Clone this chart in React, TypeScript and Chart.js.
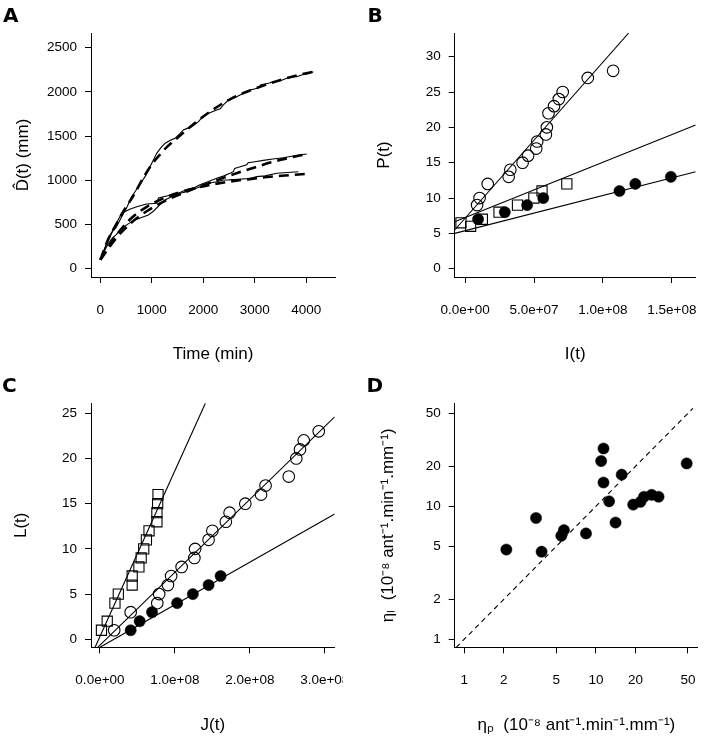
import React, { useEffect, useRef } from "react";
import { Chart, registerables } from "chart.js";
Chart.register(...registerables);

// ---------------- Panel A : D^(t) vs time ----------------
const aTimeObs1 = [0, 60, 130, 188, 250, 300, 415, 520, 610, 740, 868, 980, 1095, 1192, 1260, 1350, 1450, 1550, 1612, 1700, 1775, 1900, 1960, 2033, 2150, 2260, 2330, 2400, 2485, 2600, 2713, 2800, 2907, 3050, 3120, 3262, 3400, 3500, 3619, 3700, 3814, 3950, 4040, 4136];
const aDistObs1 = [100, 190, 300, 381, 440, 460, 588, 700, 814, 930, 1041, 1170, 1305, 1380, 1420, 1450, 1475, 1530, 1569, 1590, 1606, 1660, 1700, 1739, 1770, 1795, 1810, 1860, 1908, 1930, 1965, 1990, 2022, 2040, 2080, 2097, 2120, 2125, 2154, 2172, 2172, 2200, 2205, 2229];
const aTimeFit1 = [0, 150, 285, 450, 629, 868, 1000, 1159, 1300, 1450, 1806, 2130, 2551, 2971, 3392, 3878, 4136];
const aDistFit1 = [100, 330, 475, 650, 814, 1060, 1180, 1290, 1380, 1456, 1633, 1776, 1927, 2030, 2115, 2195, 2228];

const aTimeObs2 = [0, 80, 160, 240, 300, 415, 550, 674, 800, 932, 1030, 1150, 1256, 1400, 1515, 1677, 1839, 1936, 2100, 2260, 2400, 2518, 2583, 2610, 2700, 2843, 2870, 3000, 3165, 3350, 3553, 3800, 4008];
const aDistObs2 = [100, 200, 290, 350, 380, 457, 510, 551, 580, 607, 650, 720, 777, 820, 853, 895, 920, 950, 985, 1022, 1050, 1079, 1097, 1135, 1150, 1175, 1198, 1210, 1225, 1240, 1255, 1280, 1297];
const aTimeFit2 = [0, 300, 600, 900, 1200, 1500, 1800, 2100, 2400, 2700, 3000, 3300, 3600, 4008];
const aDistFit2 = [100, 340, 520, 650, 750, 830, 900, 965, 1030, 1090, 1145, 1200, 1245, 1297];

const aTimeObs3 = [0, 100, 221, 300, 415, 560, 706, 900, 1095, 1130, 1223, 1417, 1547, 1676, 1936, 2097, 2260, 2390, 2500, 2907, 3037, 3200, 3425, 3845];
const aDistObs3 = [100, 250, 400, 500, 627, 670, 701, 732, 740, 800, 814, 840, 853, 871, 928, 966, 984, 1003, 1005, 1020, 1041, 1050, 1079, 1097];
const aTimeFit3 = [0, 300, 600, 900, 1200, 1500, 1800, 2100, 2400, 2700, 3000, 3300, 3600, 3975];
const aDistFit3 = [100, 370, 570, 700, 790, 855, 905, 945, 975, 1000, 1020, 1040, 1055, 1071];

const aXTicks = [0, 1000, 2000, 3000, 4000];
const aXLabels = ["0", "1000", "2000", "3000", "4000"];
const aYTicks = [0, 500, 1000, 1500, 2000, 2500];
const aYLabels = ["0", "500", "1000", "1500", "2000", "2500"];

// ---------------- Panel B : P(t) vs I(t) ----------------
const bOpenX = [0.87e7, 1.05e7, 1.64e7, 3.16e7, 3.28e7, 4.17e7, 4.57e7, 5.16e7, 5.23e7, 5.86e7, 5.93e7, 6.05e7, 6.45e7, 6.8e7, 7.08e7, 8.9e7, 1.074e8];
const bOpenY = [9, 10, 12, 13, 14, 15, 16, 17, 18, 19, 20, 22, 23, 24, 25, 27, 28];
const bSquareX = [-0.3e7, 0.4e7, 1.25e7, 2.46e7, 3.8e7, 4.99e7, 5.58e7, 7.38e7];
const bSquareY = [6.5, 6, 7, 8, 9, 10, 11, 12];
const bFilledX = [0.94e7, 2.88e7, 4.5e7, 5.67e7, 1.12e8, 1.235e8, 1.493e8];
const bFilledY = [7, 8, 9, 10, 11, 12, 13];
const bFitOpenX = [-0.755e7, 1.187e8];
const bFitOpenY = [5.48, 33.35];
const bFitSquareX = [-0.755e7, 1.673e8];
const bFitSquareY = [6.65, 20.33];
const bFitFilledX = [-0.755e7, 1.673e8];
const bFitFilledY = [5.0, 13.73];
const bXTicks = [0, 5e7, 1e8, 1.5e8];
const bXLabels = ["0.0e+00", "5.0e+07", "1.0e+08", "1.5e+08"];
const bYTicks = [0, 5, 10, 15, 20, 25, 30];
const bYLabels = ["0", "5", "10", "15", "20", "25", "30"];

// ---------------- Panel C : L(t) vs J(t) ----------------
const cSquareX = [0.02e8, 0.097e8, 0.2e8, 0.245e8, 0.43e8, 0.43e8, 0.52e8, 0.55e8, 0.584e8, 0.62e8, 0.655e8, 0.76e8, 0.76e8, 0.77e8, 0.775e8];
const cSquareY = [1, 2, 4, 5, 6, 7, 8, 9, 10, 11, 12, 13, 14, 15, 16];
const cOpenX = [0.19e8, 0.41e8, 0.765e8, 0.79e8, 0.907e8, 0.95e8, 1.09e8, 1.26e8, 1.27e8, 1.45e8, 1.5e8, 1.68e8, 1.73e8, 1.94e8, 2.15e8, 2.21e8, 2.52e8, 2.62e8, 2.67e8, 2.72e8, 2.92e8];
const cOpenY = [1, 3, 4, 5, 6, 7, 8, 9, 10, 11, 12, 13, 14, 15, 16, 17, 18, 20, 21, 22, 23];
const cFilledX = [0.41e8, 0.53e8, 0.695e8, 1.03e8, 1.24e8, 1.45e8, 1.61e8];
const cFilledY = [1, 2, 3, 4, 5, 6, 7];
const cFitSquareX = [-0.065e8, 1.407e8];
const cFitSquareY = [-0.885, 26.1];
const cFitOpenX = [-0.03e8, 3.133e8];
const cFitOpenY = [-0.885, 24.6];
const cFitFilledX = [0.0, 3.133e8];
const cFitFilledY = [-0.885, 13.86];
const cXTicks = [0, 1e8, 2e8, 3e8];
const cXLabels = ["0.0e+00", "1.0e+08", "2.0e+08", "3.0e+08"];
const cYTicks = [0, 5, 10, 15, 20, 25];
const cYLabels = ["0", "5", "10", "15", "20", "25"];

// ---------------- Panel D : eta_L vs eta_P ----------------
const dEtaP = [2.09, 3.51, 3.87, 5.46, 5.72, 8.41, 10.96, 11.42, 11.42, 12.6, 14.1, 15.7, 19.2, 21.8, 23.2, 26.5, 29.9, 48.9];
const dEtaL = [4.73, 8.17, 4.56, 6.0, 6.62, 6.25, 21.9, 27.2, 15.1, 10.9, 7.55, 17.3, 10.3, 10.8, 11.8, 12.2, 11.8, 21.0];
const dIdentityX = [0.87, 54.5];
const dIdentityY = [0.87, 54.5];
const dTicks = [1, 2, 5, 10, 20, 50];
const dLabels = ["1", "2", "5", "10", "20", "50"];

// ---------------- helpers ----------------
const FONT = "'Liberation Sans', Arial, Helvetica, sans-serif";
const zip = (xs: number[], ys: number[]) => xs.map((x, i) => ({ x, y: ys[i] }));

const openCircles = (data: any[]) => ({ data, showLine: false, pointStyle: "circle", pointRadius: 5.8, pointBorderWidth: 1.1, pointBorderColor: "#000", pointBackgroundColor: "rgba(0,0,0,0)" });
const filledCircles = (data: any[]) => ({ data, showLine: false, pointStyle: "circle", pointRadius: 5.6, pointBorderWidth: 0.5, pointBorderColor: "#000", pointBackgroundColor: "#000" });
const openSquares = (data: any[]) => ({ data, showLine: false, pointStyle: "rect", pointRadius: 7.2, pointBorderWidth: 1.1, pointBorderColor: "#000", pointBackgroundColor: "rgba(0,0,0,0)" });
const solidLine = (data: any[], w = 1.1) => ({ data, showLine: true, borderColor: "#000", borderWidth: w, pointRadius: 0, tension: 0, fill: false });
const dashedCurve = (data: any[]) => ({ data, showLine: true, borderColor: "#000", borderWidth: 2.6, borderDash: [10, 6], pointRadius: 0, cubicInterpolationMode: "monotone", fill: false });

type AxisSpec = { type: string; min: number; max: number; ticks: number[]; labels: string[]; title: string; titlePad: number };
type PanelSpec = { w: number; h: number; left: number; right: number; top: number; bottom: number; x: AxisSpec; y: AxisSpec; datasets: any[] };

function buildConfig(p: PanelSpec): any {
  const common = (ax: AxisSpec, pad: number) => ({
    type: ax.type,
    min: ax.min,
    max: ax.max,
    bounds: "data",
    afterBuildTicks: (s: any) => {
      s.ticks = ax.ticks.map((v) => ({ value: v }));
    },
    ticks: {
      autoSkip: false,
      maxRotation: 0,
      minRotation: 0,
      padding: pad,
      color: "#000",
      font: { family: FONT, size: 13.5 },
      callback: (_v: any, i: number) => ax.labels[i],
    },
    grid: { drawOnChartArea: false, drawTicks: true, tickLength: 6, color: "#000", lineWidth: 1 },
    border: { display: true, color: "#000", width: 1 },
  });
  return {
    type: "scatter",
    data: { datasets: p.datasets },
    options: {
      animation: false,
      responsive: false,
      maintainAspectRatio: false,
      events: [],
      layout: { padding: { left: 0, top: p.top, right: p.w - p.right, bottom: 0 } },
      plugins: { legend: { display: false }, tooltip: { enabled: false }, title: { display: false } },
      scales: {
        x: {
          ...common(p.x, 19),
          position: "bottom",
          title: { display: true, text: p.x.title, color: "#000", font: { family: FONT, size: 17 }, padding: { top: 0, bottom: p.x.titlePad } },
          afterFit: (s: any) => {
            s.height = p.h - p.bottom;
            s.paddingLeft = 0;
            s.paddingRight = 0;
          },
        },
        y: {
          ...common(p.y, 8),
          position: "left",
          title: { display: true, text: p.y.title, color: "#000", font: { family: FONT, size: 17 }, padding: { top: p.y.titlePad, bottom: 0 } },
          afterFit: (s: any) => {
            s.width = p.left;
            s.paddingTop = 0;
            s.paddingBottom = 0;
          },
        },
      },
    },
  };
}

function Panel({ spec, x, y }: { spec: PanelSpec; x: number; y: number }) {
  const ref = useRef<HTMLCanvasElement>(null);
  useEffect(() => {
    const chart = new Chart(ref.current as HTMLCanvasElement, buildConfig(spec));
    return () => chart.destroy();
  }, []);
  return (
    <div style={{ position: "absolute", left: x, top: y, width: spec.w, height: spec.h, overflow: "hidden" }}>
      <canvas ref={ref} width={spec.w} height={spec.h} style={{ display: "block", width: spec.w, height: spec.h }} />
    </div>
  );
}

const panelA: PanelSpec = {
  w: 352, h: 370, left: 91, right: 335, top: 33, bottom: 277,
  x: { type: "linear", min: -181, max: 4557, ticks: aXTicks, labels: aXLabels, title: "Time (min)", titlePad: 5 },
  y: { type: "linear", min: -94, max: 2666, ticks: aYTicks, labels: aYLabels, title: "D\u0302(t) (mm)", titlePad: 13 },
  datasets: [
    solidLine(zip(aTimeObs1, aDistObs1)),
    solidLine(zip(aTimeObs2, aDistObs2)),
    solidLine(zip(aTimeObs3, aDistObs3)),
    dashedCurve(zip(aTimeFit1, aDistFit1)),
    dashedCurve(zip(aTimeFit2, aDistFit2)),
    dashedCurve(zip(aTimeFit3, aDistFit3)),
  ],
};

const panelB: PanelSpec = {
  w: 352, h: 370, left: 102.7, right: 348.3, top: 33, bottom: 277,
  x: { type: "linear", min: -0.755e7, max: 1.673e8, ticks: bXTicks, labels: bXLabels, title: "I(t)", titlePad: 5 },
  y: { type: "linear", min: -1.17, max: 33.35, ticks: bYTicks, labels: bYLabels, title: "P(t)", titlePad: 22 },
  datasets: [
    solidLine(zip(bFitOpenX, bFitOpenY)),
    solidLine(zip(bFitSquareX, bFitSquareY)),
    solidLine(zip(bFitFilledX, bFitFilledY)),
    openCircles(zip(bOpenX, bOpenY)),
    openSquares(zip(bSquareX, bSquareY)),
    filledCircles(zip(bFilledX, bFilledY)),
  ],
};

const panelC: PanelSpec = {
  w: 343, h: 371, left: 91, right: 336, top: 33.3, bottom: 277.3,
  x: { type: "linear", min: -1.195e7, max: 3.133e8, ticks: cXTicks, labels: cXLabels, title: "J(t)", titlePad: 5 },
  y: { type: "linear", min: -0.885, max: 26.1, ticks: cYTicks, labels: cYLabels, title: "L(t)", titlePad: 11.5 },
  datasets: [
    solidLine(zip(cFitSquareX, cFitSquareY)),
    solidLine(zip(cFitOpenX, cFitOpenY)),
    solidLine(zip(cFitFilledX, cFitFilledY)),
    openSquares(zip(cSquareX, cSquareY)),
    openCircles(zip(cOpenX, cOpenY)),
    filledCircles(zip(cFilledX, cFilledY)),
  ],
};

const panelD: PanelSpec = {
  w: 352, h: 371, left: 102.7, right: 348.3, top: 33.3, bottom: 277.3,
  x: { type: "logarithmic", min: 0.847, max: 59.5, ticks: dTicks, labels: dLabels, title: "\u03B7\u209A  (10\u207B\u2078 ant\u207B\u00B9.min\u207B\u00B9.mm\u207B\u00B9)", titlePad: 5 },
  y: { type: "logarithmic", min: 0.871, max: 59.5, ticks: dTicks, labels: dLabels, title: "\u03B7\u2097  (10\u207B\u2078 ant\u207B\u00B9.min\u207B\u00B9.mm\u207B\u00B9)", titlePad: 26 },
  datasets: [
    { data: zip(dIdentityX, dIdentityY), showLine: true, borderColor: "#000", borderWidth: 1.1, borderDash: [5, 4], pointRadius: 0, fill: false },
    filledCircles(zip(dEtaP, dEtaL)),
  ],
};

const letterStyle: React.CSSProperties = {
  position: "absolute",
  fontFamily: "'DejaVu Sans', Verdana, sans-serif",
  fontWeight: "bold",
  fontSize: 20,
  lineHeight: "20px",
  color: "#000",
};

export default function App() {
  return (
    <div style={{ position: "absolute", left: 0, top: 0, width: 704, height: 741, background: "#fff", overflow: "hidden" }}>
      <Panel spec={panelA} x={0} y={0} />
      <Panel spec={panelB} x={352} y={0} />
      <Panel spec={panelC} x={0} y={370} />
      <Panel spec={panelD} x={352} y={370} />
      <div style={{ ...letterStyle, left: 3, top: 4.7 }}>A</div>
      <div style={{ ...letterStyle, left: 367.5, top: 4.7 }}>B</div>
      <div style={{ ...letterStyle, left: 2, top: 374.7 }}>C</div>
      <div style={{ ...letterStyle, left: 366.5, top: 374.7 }}>D</div>
    </div>
  );
}
